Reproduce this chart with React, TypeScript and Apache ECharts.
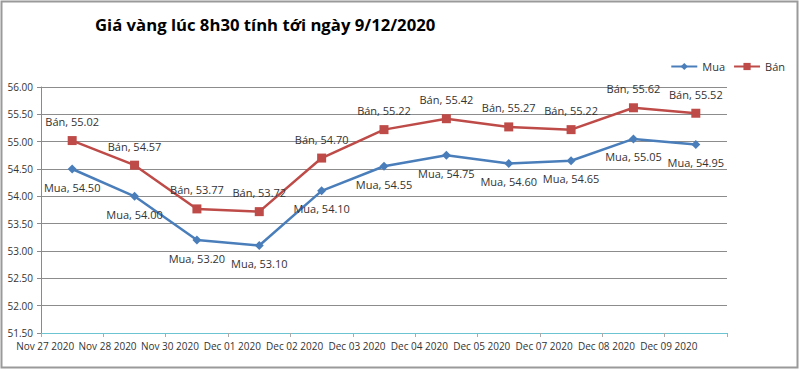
import React, { useEffect, useRef } from "react";
import * as echarts from "echarts";

const categories = ["Nov 27 2020", "Nov 28 2020", "Nov 30 2020", "Dec 01 2020", "Dec 02 2020", "Dec 03 2020", "Dec 04 2020", "Dec 05 2020", "Dec 07 2020", "Dec 08 2020", "Dec 09 2020"];
const muaValues = [54.5, 54.0, 53.2, 53.1, 54.1, 54.55, 54.75, 54.6, 54.65, 55.05, 54.95];
const banValues = [55.02, 54.57, 53.77, 53.72, 54.7, 55.22, 55.42, 55.27, 55.22, 55.62, 55.52];
const titleText = "Giá vàng lúc 8h30 tính tới ngày 9/12/2020";

export default function App() {
  const ref = useRef<HTMLDivElement>(null);
  useEffect(() => {
    const chart = echarts.init(ref.current!, null, { renderer: "svg" });
    const font = "'Open Sans', 'Noto Sans', sans-serif";
    chart.setOption({
      animation: false,
      backgroundColor: "#ffffff",
      textStyle: { fontFamily: font },
      title: {
        text: titleText,
        left: 90,
        top: 11,
        textStyle: { fontFamily: font, fontSize: 16.7, fontWeight: "bold", color: "#000" },
      },
      graphic: [
        {
          type: "rect",
          shape: { x: 1.5, y: 1.5, width: 796, height: 366 },
          style: { fill: "none", stroke: "#9a9a9a", lineWidth: 2 },
          silent: true,
        },
      ],
      legend: {
        right: 10,
        top: 56,
        itemWidth: 26,
        itemHeight: 9,
        itemGap: 8,
        textStyle: { fontFamily: font, fontSize: 11, color: "#333" },
        data: ["Mua", "Bán"],
      },
      grid: { left: 41, right: 73, top: 87, bottom: 37 },
      xAxis: {
        type: "category",
        data: categories,
        boundaryGap: true,
        axisLine: { lineStyle: { color: "#6cc3d1", width: 1 } },
        axisTick: { show: true, length: 4, lineStyle: { color: "#aaa" } },
        axisLabel: {
          interval: 0,
          fontSize: 10,
          color: "#333",
          margin: 8,
          padding: [0, 54, 0, 0],
        },
      },
      yAxis: {
        type: "value",
        min: 51.5,
        max: 56,
        interval: 0.5,
        axisLine: { show: true, lineStyle: { color: "#8a8a8a" } },
        axisTick: { show: true, length: 4, lineStyle: { color: "#8a8a8a" } },
        splitLine: { lineStyle: { color: "#8c8c8c" } },
        axisLabel: {
          fontSize: 10,
          color: "#333",
          margin: 8,
          formatter: (v: number) => v.toFixed(2),
        },
      },
      series: [
        {
          name: "Mua",
          type: "line",
          data: muaValues,
          color: "#4a7ebb",
          symbol: "diamond",
          symbolSize: 9,
          lineStyle: { width: 2.5, color: "#4a7ebb" },
          itemStyle: { color: "#4a7ebb" },
          label: {
            show: true,
            position: "bottom",
            distance: 8,
            fontSize: 11,
            color: "#333",
            formatter: (p: any) => "Mua, " + Number(p.value).toFixed(2),
          },
        },
        {
          name: "Bán",
          type: "line",
          data: banValues,
          color: "#be4b48",
          symbol: "rect",
          symbolSize: 9,
          lineStyle: { width: 2.5, color: "#be4b48" },
          itemStyle: { color: "#be4b48" },
          label: {
            show: true,
            position: "top",
            distance: 9,
            fontSize: 11,
            color: "#333",
            formatter: (p: any) => "Bán, " + Number(p.value).toFixed(2),
          },
        },
      ],
    });
    return () => chart.dispose();
  }, []);
  return (
    <div
      ref={ref}
      style={{ position: "fixed", left: 0, top: 0, width: 800, height: 370 }}
    />
  );
}
